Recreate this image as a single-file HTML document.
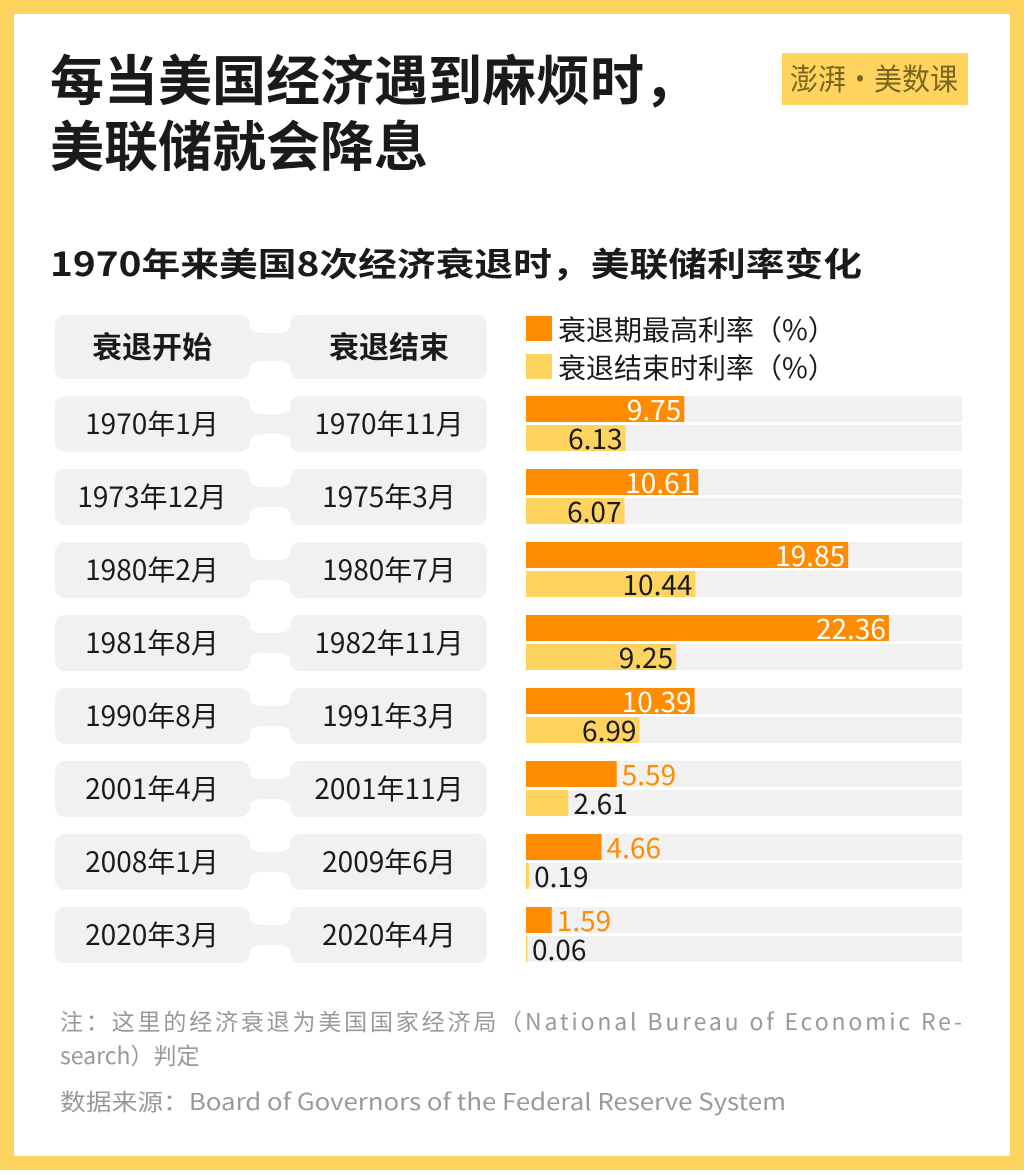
<!DOCTYPE html>
<html><head><meta charset="utf-8"><style>
body{margin:0;width:1024px;height:1170px;overflow:hidden;background:#fff}
svg text{font-family:"Noto Sans CJK SC","Liberation Sans",sans-serif}
</style></head><body>
<svg id="chart" width="1024" height="1170" xmlns="http://www.w3.org/2000/svg">
<rect x="0" y="0" width="1024" height="1170" fill="#FFD45E"/>
<rect x="14" y="14" width="996" height="1142" fill="#fff"/>
<text x="50" y="100" font-size="54" font-weight="bold" fill="#1a1a1a">每当美国经济遇到麻烦时，</text>
<text x="50" y="166" font-size="54" font-weight="bold" fill="#1a1a1a">美联储就会降息</text>
<g>
<rect x="782" y="53" width="186" height="52" fill="#FFD45E"/>
<text x="790" y="90" font-size="30" fill="#7a6520" textLength="168" lengthAdjust="spacingAndGlyphs">澎湃·美数课</text>
</g>
<text x="50" y="276" font-size="33" font-weight="bold" fill="#1a1a1a" textLength="812" lengthAdjust="spacingAndGlyphs">1970年来美国8次经济衰退时，美联储利率变化</text>
<g id="table"></g>
<g>
<rect x="526" y="316" width="26" height="25" fill="#FF8C00"/>
<text x="558" y="340" font-size="28" fill="#1a1a1a">衰退期最高利率（%）</text>
<rect x="526" y="354" width="26" height="25" fill="#FFD45E"/>
<text x="558" y="378" font-size="28" fill="#1a1a1a">衰退结束时利率（%）</text>
</g>
<g id="bars"></g>
<text x="60" y="1030" font-size="23" fill="#999" textLength="902" lengthAdjust="spacing">注：这里的经济衰退为美国国家经济局（National Bureau of Economic Re-</text>
<text x="60" y="1064" font-size="23" fill="#999">search）判定</text>
<text x="60" y="1110" font-size="23" fill="#999" textLength="726" lengthAdjust="spacingAndGlyphs">数据来源：Board of Governors of the Federal Reserve System</text>
</svg>
<script>
const startDates=["1970年1月","1973年12月","1980年2月","1981年8月","1990年8月","2001年4月","2008年1月","2020年3月"];
const endDates=["1970年11月","1975年3月","1980年7月","1982年11月","1991年3月","2001年11月","2009年6月","2020年4月"];
const peakRates=[9.75,10.61,19.85,22.36,10.39,5.59,4.66,1.59];
const endRates=[6.13,6.07,10.44,9.25,6.99,2.61,0.19,0.06];
const NS="http://www.w3.org/2000/svg";
const x0=526,trackEnd=962,pxPerUnit=16.23;
function xs(v){return x0+v*pxPerUnit;}
function rowY(i){return 396+i*73;}
function mk(parent,tag,attrs){const e=document.createElementNS(NS,tag);for(const k in attrs)e.setAttribute(k,attrs[k]);parent.appendChild(e);return e;}
const table=document.getElementById('table'),bars=document.getElementById('bars');
function cellPair(y0,y1,a,b,header,idx){
  const g=mk(table,'g',{});
  
  
  const c1=mk(g,'rect',{x:55,y:y0,width:195,height:y1-y0,rx:10,fill:'#f1f1f1'});
  
  
  const c2=mk(g,'rect',{x:290,y:y0,width:197,height:y1-y0,rx:10,fill:'#f1f1f1'});
  
  
  const con=mk(g,'path',{d:`M246,${y0+6} Q250,${y0+18} 262,${y0+18} L278,${y0+18} Q290,${y0+18} 294,${y0+6} L294,${y1-6} Q290,${y1-18} 278,${y1-18} L262,${y1-18} Q250,${y1-18} 246,${y1-6} Z`,fill:'#f1f1f1'});
  
  
  const fs=header?30:28,cy=(y0+y1)/2+fs*0.36;
  const t1=mk(g,'text',{x:152,y:cy,'font-size':fs,'text-anchor':'middle',fill:'#1a1a1a','font-weight':header?'bold':'normal'});t1.textContent=a;
  
  
  const t2=mk(g,'text',{x:389,y:cy,'font-size':fs,'text-anchor':'middle',fill:'#1a1a1a','font-weight':header?'bold':'normal'});t2.textContent=b;
  
  
}
cellPair(315,379,'衰退开始','衰退结束',true,0);
function bar(y,v,color,txtIn,txtOut,name){
  const tr=mk(bars,'rect',{x:x0,y:y,width:trackEnd-x0,height:26,fill:'#f1f1f1'});
  
  
  const r=mk(bars,'rect',{x:x0,y:y,width:Math.max(1.5,xs(v)-x0),height:26,fill:color});
  
  
  const inside=v>=6,xe=xs(v);
  const t=mk(bars,'text',{x:inside?xe-3:xe+5,y:y+24,'font-size':28,'text-anchor':inside?'end':'start',fill:inside?txtIn:txtOut});
  t.textContent=v.toFixed(2);
  
  
}
for(let i=0;i<startDates.length;i++){
  const y=rowY(i);
  cellPair(y,y+56,startDates[i],endDates[i],false,i+1);
  bar(y,peakRates[i],'#FF8C00','#fff','#FF8C00','bar-peak-'+(i+1));
  bar(y+29,endRates[i],'#FFD45E','#1a1a1a','#1a1a1a','bar-end-'+(i+1));
}
</script>
</body></html>
